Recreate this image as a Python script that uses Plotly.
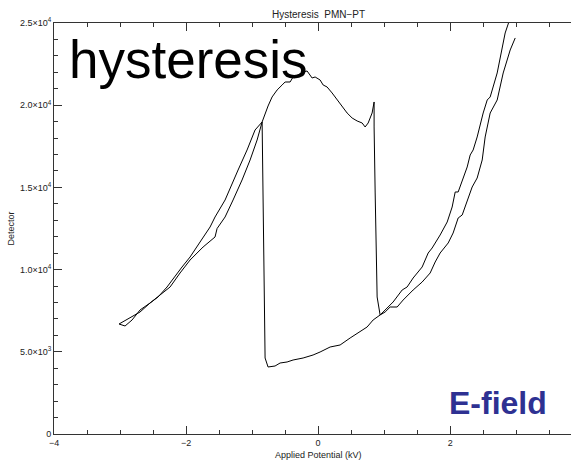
import plotly.graph_objects as go

# ---- data (Applied potential in kV, detector counts) ----
# right branch coming down (start of the recorded sweep)
right_down_kv = [2.985, 2.909, 2.803, 2.712, 2.606, 2.530, 2.485, 2.409, 2.333, 2.258,
                 2.182, 2.121, 2.045, 1.970, 1.848, 1.773, 1.697, 1.576, 1.439, 1.288,
                 1.197, 1.091, 1.015, 0.939]
right_down_counts = [24089, 23359, 21960, 20317, 19526, 18067, 16667, 15572, 15025, 14234,
                     13322, 13139, 12227, 11619, 11010, 10463, 9794, 9246, 8760, 8151,
                     7725, 7725, 7421, 7239]
# bottom branch
bottom_kv = [0.833, 0.742, 0.591, 0.485, 0.333, 0.182, 0.030, -0.076, -0.227, -0.379,
             -0.470, -0.576, -0.652, -0.758, -0.803]
bottom_counts = [6935, 6509, 6144, 5840, 5414, 5292, 4988, 4806, 4623, 4501,
                 4380, 4319, 4136, 4076, 4623]
# negative switching rise
rise_kv = [-0.818, -0.833, -0.848, -0.848]
rise_counts = [8577, 14660, 18675, 18979]
# left outer branch going down
left_out_kv = [-0.955, -1.076, -1.212, -1.288, -1.409, -1.561, -1.636, -1.788, -1.939, -2.061,
               -2.212, -2.288, -2.424, -2.545, -2.697, -2.848, -2.970, -3.015]
left_out_counts = [18492, 17276, 16059, 15329, 14234, 13200, 12592, 11679, 10767, 10159,
                   9368, 8942, 8334, 7969, 7421, 7056, 6752, 6691]
# left inner branch going back up
left_in_kv = [-2.924, -2.818, -2.697, -2.545, -2.394, -2.242, -2.091, -1.939, -1.742, -1.561,
              -1.530, -1.409, -1.288, -1.152, -1.030, -0.924, -0.848]
left_in_counts = [6570, 6935, 7543, 7969, 8455, 8942, 9794, 10584, 11375, 11984,
                  12500, 13200, 14234, 15451, 16667, 17884, 18979]
# top arc: from left switching point over the maximum to the positive spike
arc_kv = [-0.803, -0.758, -0.697, -0.621, -0.545, -0.500, -0.424, -0.379, -0.303,
          -0.227, -0.167, -0.121, -0.091, -0.045, 0.030, 0.076, 0.136, 0.212, 0.288,
          0.364, 0.439, 0.515, 0.591, 0.667, 0.712, 0.758, 0.818, 0.848]
arc_counts = [19526, 19952, 20500, 20926, 21230, 21412, 21412, 21716, 21838,
              22020, 22081, 21838, 21655, 21716, 21534, 21230, 21108, 20743, 20317,
              19891, 19526, 19222, 19040, 18918, 18675, 18918, 19526, 20196]
# positive switching drop
drop_kv = [0.848, 0.864, 0.879, 0.894, 0.939]
drop_counts = [18675, 14660, 10584, 8334, 7239]
# right branch going up (end of the sweep, leaves the top of the frame)
right_up_kv = [1.045, 1.136, 1.273, 1.348, 1.439, 1.576, 1.667, 1.727, 1.848, 1.955,
               2.030, 2.076, 2.121, 2.182, 2.258, 2.303, 2.348, 2.409, 2.500, 2.561,
               2.606, 2.712, 2.788, 2.833, 2.894]
right_up_counts = [7665, 8030, 8760, 8942, 9489, 10159, 11010, 11314, 12105, 12896,
                   13808, 14721, 14721, 15451, 16242, 16972, 17276, 18067, 19526, 20317,
                   20500, 21960, 23359, 24393, 25123]

y_tickvals = [0, 5000, 10000, 15000, 20000, 25000]
y_ticktext = ["0", "5.0×10<sup>3</sup>", "1.0×10<sup>4</sup>", "1.5×10<sup>4</sup>",
              "2.0×10<sup>4</sup>", "2.5×10<sup>4</sup>"]
x_tickvals = [-4, -2, 0, 2]
x_ticktext = ["−4", "−2", "0", "2"]

kv = right_down_kv + bottom_kv + rise_kv + left_out_kv + left_in_kv + arc_kv + drop_kv + right_up_kv
counts = (right_down_counts + bottom_counts + rise_counts + left_out_counts + left_in_counts
          + arc_counts + drop_counts + right_up_counts)

font = "Liberation Sans, Arial, sans-serif"
axis_col = "#333333"

fig = go.Figure()
fig.add_trace(go.Scatter(x=kv, y=counts, mode="lines",
                         line=dict(color="black", width=1), showlegend=False,
                         hoverinfo="skip"))

fig.update_layout(
    width=571, height=461,
    margin=dict(l=54, r=0, t=23, b=27),
    paper_bgcolor="white", plot_bgcolor="white",
    font=dict(family=font, size=9, color="#222222"),
    xaxis=dict(range=[-4, 3.83], tickvals=x_tickvals, ticktext=x_ticktext,
               ticks="inside", ticklen=8, tickcolor=axis_col, tickwidth=1,
               minor=dict(dtick=0.5, ticks="inside", ticklen=4, tickcolor=axis_col),
               showline=True, linecolor=axis_col, linewidth=1, mirror="allticks",
               showgrid=False, zeroline=False, tickfont=dict(size=9)),
    yaxis=dict(range=[0, 25000], tickvals=y_tickvals, ticktext=y_ticktext,
               ticks="inside", ticklen=8, tickcolor=axis_col, tickwidth=1,
               minor=dict(dtick=1000, ticks="inside", ticklen=4, tickcolor=axis_col),
               showline=True, linecolor=axis_col, linewidth=1, mirror=False,
               showgrid=False, zeroline=False, tickfont=dict(size=9)),
    annotations=[
        dict(text="Hysteresis  PMN−PT", x=0, xref="x", y=1, yref="paper", yshift=9,
             showarrow=False, font=dict(size=10, color="#222222"), xanchor="center",
             yanchor="middle"),
        dict(text="Applied Potential (kV)", x=0, xref="x", y=0, yref="paper", yshift=-21,
             showarrow=False, font=dict(size=9, color="#222222"), xanchor="center",
             yanchor="middle"),
        dict(text="Detector", x=0, xref="paper", xshift=-44, y=0.5, yref="paper",
             textangle=-90, showarrow=False, font=dict(size=9, color="#222222"),
             xanchor="center", yanchor="middle"),
        dict(text="hysteresis", x=0.025, xref="paper", y=0.912, yref="paper",
             showarrow=False, font=dict(size=53, color="black", family=font),
             xanchor="left", yanchor="middle"),
        dict(text="<b>E-field</b>", x=0.858, xref="paper", y=0.075, yref="paper",
             showarrow=False, font=dict(size=32, color="#2E3192", family=font),
             xanchor="center", yanchor="middle"),
    ],
)

fig.write_html("out.html")
